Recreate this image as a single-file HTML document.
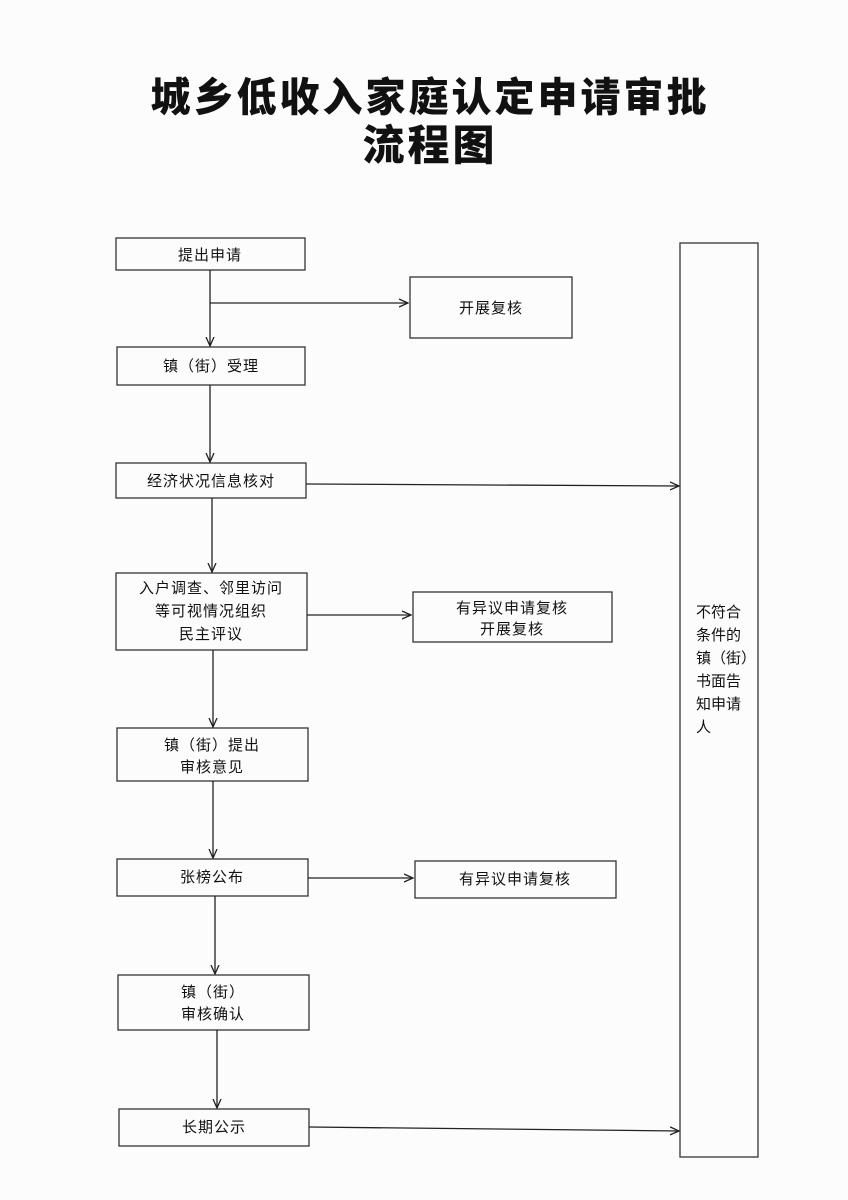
<!DOCTYPE html>
<html><head><meta charset="utf-8"><style>
html,body{margin:0;padding:0;background:#fdfdfd;}
svg{display:block}
text{font-family:"Liberation Sans","Noto Sans CJK SC",sans-serif;fill:#111}
</style></head><body>
<svg width="848" height="1200" viewBox="0 0 848 1200" xmlns="http://www.w3.org/2000/svg">
<defs><marker id="a" markerWidth="10" markerHeight="10" refX="9" refY="5" orient="auto" markerUnits="userSpaceOnUse"><path d="M0,1 L9,5 L0,9" fill="none" stroke="#222" stroke-width="1.3"/></marker></defs>
<rect x="0" y="0" width="848" height="1200" fill="#fcfcfc"/>
<text x="430" y="111" font-size="40" text-anchor="middle" letter-spacing="3" style="font-family:'Noto Sans CJK SC',sans-serif;font-weight:900">城乡低收入家庭认定申请审批</text>
<text x="430" y="160" font-size="42" text-anchor="middle" letter-spacing="3" style="font-family:'Noto Sans CJK SC',sans-serif;font-weight:900">流程图</text>
<g fill="none" stroke="#333" stroke-width="1.3">
<rect x="116" y="238" width="189" height="32"/>
<rect x="410" y="277" width="162" height="61"/>
<rect x="117" y="347" width="188" height="38"/>
<rect x="116" y="463" width="190" height="35"/>
<rect x="116" y="573" width="191" height="77"/>
<rect x="413" y="592" width="199" height="50"/>
<rect x="117" y="728" width="191" height="53"/>
<rect x="117" y="859" width="191" height="37"/>
<rect x="415" y="861" width="201" height="37"/>
<rect x="118" y="975" width="191" height="55"/>
<rect x="119" y="1109" width="190" height="37"/>
<rect x="680" y="243" width="78" height="914"/>
</g>
<g stroke="#222" stroke-width="1.3" fill="none" marker-end="url(#a)">
<line x1="210" y1="270" x2="210" y2="346"/>
<line x1="210" y1="303" x2="408" y2="303"/>
<line x1="210" y1="385" x2="210" y2="462"/>
<line x1="306" y1="484" x2="679" y2="486"/>
<line x1="212" y1="498" x2="212" y2="572"/>
<line x1="307" y1="615" x2="411" y2="615"/>
<line x1="213" y1="650" x2="213" y2="727"/>
<line x1="213" y1="781" x2="213" y2="858"/>
<line x1="308" y1="878" x2="413" y2="878"/>
<line x1="215" y1="896" x2="215" y2="974"/>
<line x1="217" y1="1030" x2="217" y2="1108"/>
<line x1="309" y1="1127" x2="679" y2="1131"/>
</g>
<g font-size="15" text-anchor="middle" letter-spacing="1">
<text x="210" y="260">提出申请</text>
<text x="491" y="313">开展复核</text>
<text x="211" y="371">镇（街）受理</text>
<text x="211" y="486">经济状况信息核对</text>
<text x="211" y="593">入户调查、邻里访问</text>
<text x="211" y="616">等可视情况组织</text>
<text x="211" y="639">民主评议</text>
<text x="512" y="613">有异议申请复核</text>
<text x="512" y="634">开展复核</text>
<text x="212" y="750">镇（街）提出</text>
<text x="212" y="772">审核意见</text>
<text x="212" y="882">张榜公布</text>
<text x="515" y="884">有异议申请复核</text>
<text x="213" y="997">镇（街）</text>
<text x="213" y="1019">审核确认</text>
<text x="214" y="1132">长期公示</text>
</g>
<g font-size="15">
<text x="696" y="617">不符合</text>
<text x="696" y="640">条件的</text>
<text x="696" y="663">镇（街）</text>
<text x="696" y="686">书面告</text>
<text x="696" y="709">知申请</text>
<text x="696" y="732">人</text>
</g>
</svg>
</body></html>
